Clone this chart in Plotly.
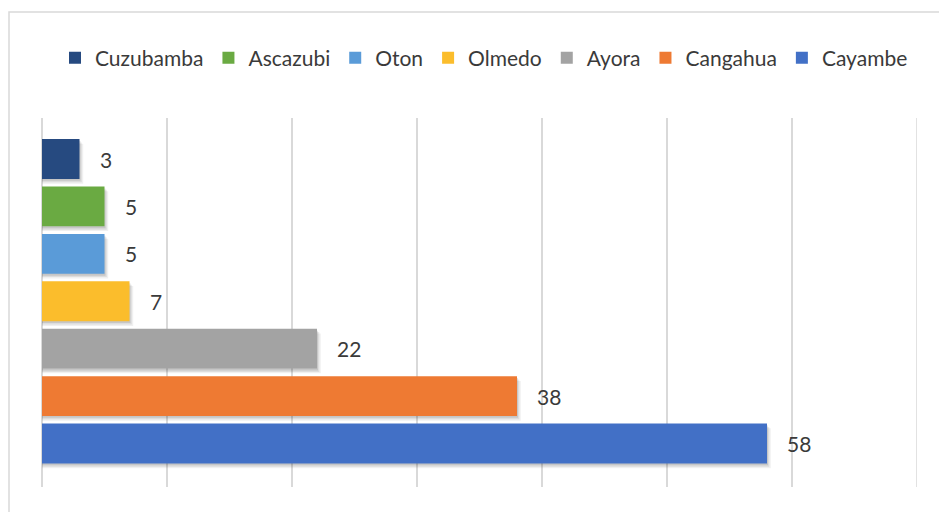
import plotly.graph_objects as go

# Parish names (top to bottom as drawn) and their counts
parishes = ["Cuzubamba", "Ascazubi", "Oton", "Olmedo", "Ayora", "Cangahua", "Cayambe"]
counts = [3, 5, 5, 7, 22, 38, 58]
colors = ["#264a80", "#6aaa42", "#5a9bd8", "#fbbd2c", "#a3a3a3", "#ee7a33", "#4270c6"]

W, H = 939, 512
ML, MR, MT, MB = 42, 22, 118, 25
FONT = "Lato"
TEXT_COLOR = "#3a3a3a"
GRID = "#d9d9d9"
BAR_W = 0.84
X_MAX = 70

fig = go.Figure()

# soft drop shadow under each bar (a few translucent layers)
for dx, dy, a in [(0.30, 0.10, 0.06), (0.18, 0.07, 0.08), (0.08, 0.04, 0.10)]:
    fig.add_trace(go.Bar(
        x=[v + dx for v in counts], y=parishes, orientation="h",
        offset=-BAR_W / 2 - dy, width=BAR_W,
        marker=dict(color=f"rgba(0,0,0,{a})", line=dict(width=0)),
        showlegend=False, hoverinfo="skip",
    ))

for name, val, col in zip(parishes, counts, colors):
    fig.add_trace(go.Bar(
        x=[val], y=[name], name=name, orientation="h",
        marker=dict(color=col, line=dict(width=0)),
        width=BAR_W, hoverinfo="x+name",
    ))
    fig.add_annotation(
        x=val, y=name, text=str(val), showarrow=False,
        xanchor="left", yanchor="middle", xshift=18,
        font=dict(family=FONT, size=21, color=TEXT_COLOR),
    )

# category order: last in array drawn at top
order = list(reversed(parishes))

pw = W - ML - MR
ph = H - MT - MB

# closing gridline at the right end of the value axis
fig.add_shape(type="line", xref="x", yref="paper", x0=X_MAX, x1=X_MAX, y0=0, y1=1,
              line=dict(color=GRID, width=1.5), layer="below")

# outer chart border (left and top edges visible)
bx0 = (9 - ML) / pw
by1 = (H - MB - 12) / ph
fig.add_shape(type="rect", xref="paper", yref="paper",
              x0=bx0, x1=(W + 20 - ML) / pw, y0=-(MB + 20) / ph, y1=by1,
              line=dict(color=GRID, width=1.5), fillcolor="rgba(0,0,0,0)", layer="below")

fig.update_layout(
    width=W, height=H,
    margin=dict(l=ML, r=MR, t=MT, b=MB),
    paper_bgcolor="white", plot_bgcolor="white",
    barmode="overlay",
    showlegend=True,
    legend=dict(
        orientation="h", x=(484 - ML) / pw, xanchor="center",
        y=(H - MB - 58) / ph, yanchor="middle",
        font=dict(family=FONT, size=21, color=TEXT_COLOR),
        traceorder="normal", itemwidth=30,
    ),
    xaxis=dict(
        range=[0, X_MAX], dtick=10, showgrid=True, gridcolor=GRID, gridwidth=1.5,
        showticklabels=False, zeroline=True, zerolinecolor=GRID, zerolinewidth=1.5,
        showline=False, ticks="",
    ),
    yaxis=dict(
        type="category", categoryorder="array", categoryarray=order,
        range=[-0.918, 6.865], showticklabels=False, showgrid=False,
        showline=False, ticks="", zeroline=False,
    ),
    font=dict(family=FONT, color=TEXT_COLOR),
)

fig.write_html("out.html")
